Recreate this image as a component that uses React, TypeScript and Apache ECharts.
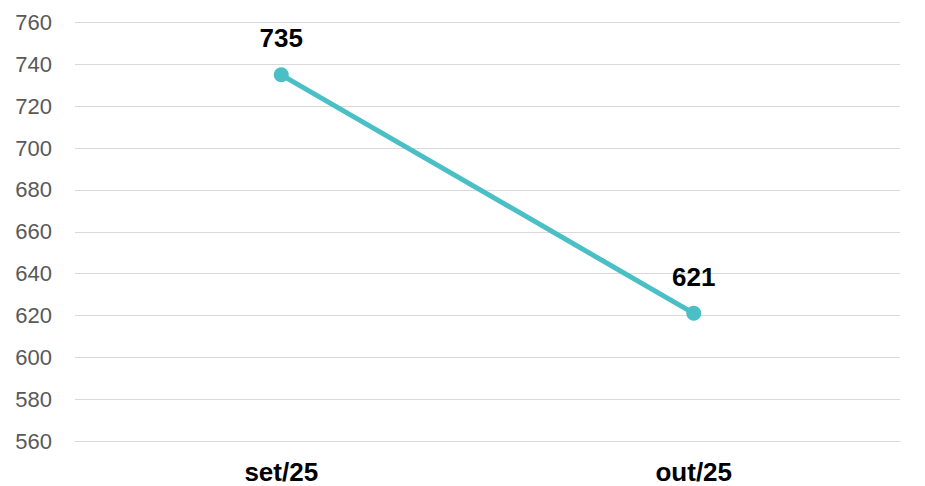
import React, { useEffect, useRef } from "react";
import * as echarts from "echarts";

const categories = ["set/25", "out/25"];
const values = [735, 621];
const yMin = 560;
const yMax = 760;
const yInterval = 20;

export default function App() {
  const ref = useRef<HTMLDivElement>(null);
  useEffect(() => {
    if (!ref.current) return;
    const chart = echarts.init(ref.current, null, { renderer: "svg" });
    chart.setOption({
      animation: false,
      grid: { left: 75, right: 25, top: 22.5, bottom: 45, containLabel: false },
      xAxis: {
        type: "category",
        data: categories,
        boundaryGap: true,
        axisLine: { show: true, lineStyle: { color: "#d9d9d9", width: 1 } },
        axisTick: { show: false },
        axisLabel: {
          margin: 18,
          color: "#000",
          fontWeight: "bold",
          fontSize: 26,
          fontFamily: "Liberation Sans, Arial, sans-serif",
        },
      },
      yAxis: {
        type: "value",
        min: yMin,
        max: yMax,
        interval: yInterval,
        axisLine: { show: false },
        axisTick: { show: false },
        splitLine: { lineStyle: { color: "#d9d9d9", width: 1 } },
        axisLabel: {
          margin: 23,
          color: "#595959",
          fontSize: 22,
          fontFamily: "Liberation Sans, Arial, sans-serif",
        },
      },
      series: [
        {
          type: "line",
          data: values,
          symbol: "circle",
          symbolSize: 15,
          lineStyle: { color: "#4bbfc6", width: 5 },
          itemStyle: { color: "#4bbfc6" },
          label: {
            show: true,
            position: "top",
            distance: 16,
            color: "#000",
            fontWeight: "bold",
            fontSize: 26,
            fontFamily: "Liberation Sans, Arial, sans-serif",
          },
        },
      ],
    });
    return () => chart.dispose();
  }, []);
  return (
    <div
      ref={ref}
      style={{ position: "absolute", left: 0, top: 0, width: 925, height: 486 }}
    />
  );
}
